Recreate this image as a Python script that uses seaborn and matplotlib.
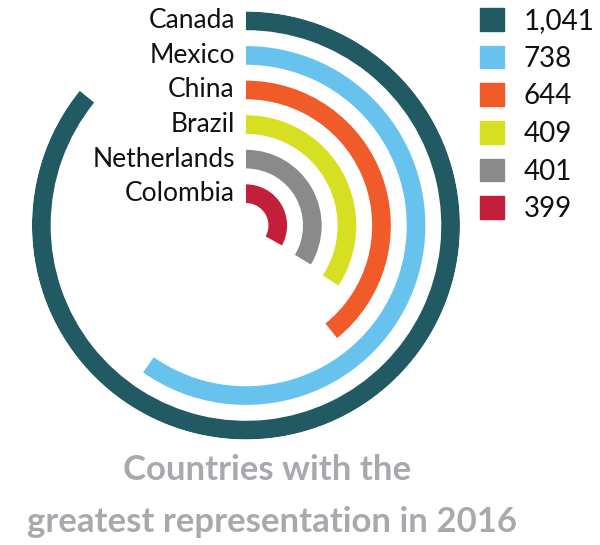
import matplotlib
import matplotlib.pyplot as plt
import matplotlib.patches as mpatches
import numpy as np
import seaborn as sns

matplotlib.use('Agg')

# data (outer ring first)
countries = ['Canada', 'Mexico', 'China', 'Brazil', 'Netherlands', 'Colombia']
counts = [1041, 738, 644, 409, 401, 399]
# how far each arc sweeps clockwise from 12 o'clock, in degrees, as drawn
sweep_deg = [309, 215, 141, 123, 121, 119]
colors = ['#215a63', '#67c3ee', '#f15a29', '#d7df23', '#8a8a8a', '#c41f3a']

sns.set_theme(style='white')
plt.rcParams['font.family'] = ['Lato', 'DejaVu Sans']

fig = plt.figure(figsize=(6, 5.45), dpi=100)
fig.patch.set_facecolor('white')

# polar axes, square in pixels, centred where the rings are centred
ax = fig.add_axes([0.0533, 0.1936, 0.7133, 0.7853], projection='polar')
ax.set_theta_zero_location('N')
ax.set_theta_direction(-1)

# ring positions: innermost ring (Colombia) has index 0
n = len(countries)
ring_height = 0.54
bottoms = [0.65 + (n - 1 - i) for i in range(n)]

ax.bar(x=0, height=ring_height, width=np.deg2rad(sweep_deg), bottom=bottoms,
       color=colors, align='edge', linewidth=0)
ax.set_ylim(0, 6.19)
ax.set_axis_off()

# country names to the left of where each ring starts
for name, b in zip(countries, bottoms):
    ax.annotate(name, xy=(0, b + ring_height / 2), xytext=(-8, 0),
                textcoords='offset points', ha='right', va='center',
                fontsize=19, color='#111111')

# legend with the counts
handles = [mpatches.Patch(color=c) for c in colors]
labels = [f'{v:,}' for v in counts]
fig.legend(handles, labels, loc='upper left',
           bbox_to_anchor=(480 / 600, 1 - 8 / 545), frameon=False,
           fontsize=20, handlelength=0.88, handleheight=0.88,
           handletextpad=0.7, labelspacing=0.42, borderpad=0,
           borderaxespad=0, labelcolor='#111111')

# caption
cap_font = ['Liberation Sans Narrow', 'Lato', 'DejaVu Sans']
fig.text(0.445, 1 - 470 / 545, 'Countries with the', ha='center',
         va='center', fontsize=25, fontweight='bold', color='#a7a9ac',
         family=cap_font)
fig.text(0.453, 1 - 522 / 545, 'greatest representation in 2016',
         ha='center', va='center', fontsize=25, fontweight='bold',
         color='#a7a9ac', family=cap_font)

fig.savefig('out.png', dpi=100, facecolor='white')
